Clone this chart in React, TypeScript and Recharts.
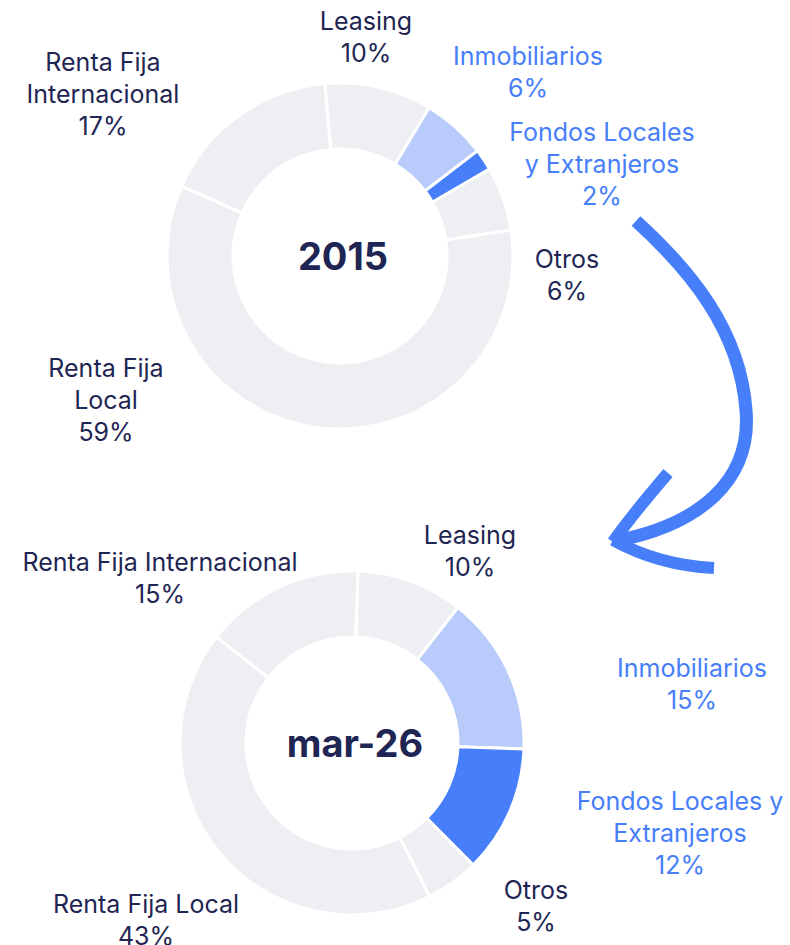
import React from "react";
import { PieChart, Pie, Cell, Customized } from "recharts";

// slices clockwise from the top
const categories = [
  "Leasing",
  "Inmobiliarios",
  "Fondos Locales y Extranjeros",
  "Otros",
  "Renta Fija Local",
  "Renta Fija Internacional",
];
const values2015 = [10, 6, 2, 6, 59, 17];
const valuesMar26 = [10, 15, 12, 5, 43, 15];
const periods = ["2015", "mar-26"];

const GREY = "#EDEFF2";
const LIGHT = "#B8CBFB";
const BLUE = "#477EFA";
const NAVY = "#1F2653";
const sliceColors = [GREY, LIGHT, BLUE, GREY, GREY, GREY];
const labelColors = [NAVY, BLUE, BLUE, NAVY, NAVY, NAVY];

// how each label wraps and where it sits relative to the pie center
const lines2015 = [
  ["Leasing"],
  ["Inmobiliarios"],
  ["Fondos Locales", "y Extranjeros"],
  ["Otros"],
  ["Renta Fija", "Local"],
  ["Renta Fija", "Internacional"],
];
const offsets2015 = [
  [26, -235],
  [188, -200],
  [262, -124],
  [227, 3],
  [-234, 112],
  [-237, -194],
];
const linesMar26 = [
  ["Leasing"],
  ["Inmobiliarios"],
  ["Fondos Locales y", "Extranjeros"],
  ["Otros"],
  ["Renta Fija Local"],
  ["Renta Fija Internacional"],
];
const offsetsMar26 = [
  [118, -208],
  [340, -75],
  [328, 58],
  [184, 147],
  [-206, 161],
  [-192, -181],
];

const FONT = "Inter, 'Noto Sans', sans-serif";

const makeData = (vals: number[]) =>
  categories.map((name, i) => ({ name, value: vals[i] }));

const makeLabel =
  (vals: number[], lines: string[][], offsets: number[][], title: string) =>
  (props: any) => {
    const { cx, cy, index } = props;
    const rows = [...lines[index], `${vals[index]}%`];
    const x = cx + offsets[index][0];
    const y = cy + offsets[index][1];
    return (
      <g key={`lbl-${index}`}>
        <text
          x={x}
          y={y}
          textAnchor="middle"
          fill={labelColors[index]}
          fontFamily={FONT}
          fontSize={25}
        >
          {rows.map((r, j) => (
            <tspan key={j} x={x} y={y + j * 32} dominantBaseline="central">
              {r}
            </tspan>
          ))}
        </text>
        {index === 0 && (
          <text
            x={cx + 3}
            y={cy}
            textAnchor="middle"
            dominantBaseline="central"
            fill={NAVY}
            fontFamily={FONT}
            fontSize={38}
            fontWeight={700}
          >
            {title}
          </text>
        )}
      </g>
    );
  };

const Arrow = () => (
  <g>
    <path
      d="M636 221 C 690 270, 740 330, 746 410 C 752 480, 700 525, 615 541"
      fill="none"
      stroke={BLUE}
      strokeWidth={13}
      strokeLinecap="butt"
    />
    <path
      d="M668 473 C 645 500, 628 520, 613 542"
      fill="none"
      stroke={BLUE}
      strokeWidth={12}
    />
    <path
      d="M613 540 C 640 555, 675 566, 714 568"
      fill="none"
      stroke={BLUE}
      strokeWidth={12}
    />
  </g>
);

export default function App() {
  return (
    <div style={{ position: "absolute", left: 0, top: 0, background: "#fff" }}>
      <PieChart
        width={790}
        height={945}
        margin={{ top: 0, right: 0, bottom: 0, left: 0 }}
      >
        <Pie
          data={makeData(values2015)}
          dataKey="value"
          nameKey="name"
          cx={340}
          cy={256}
          innerRadius={107}
          outerRadius={173}
          startAngle={95}
          endAngle={-265}
          stroke="#ffffff"
          strokeWidth={3}
          labelLine={false}
          label={makeLabel(values2015, lines2015, offsets2015, periods[0])}
          isAnimationActive={false}
        >
          {values2015.map((_, i) => (
            <Cell key={i} fill={sliceColors[i]} />
          ))}
        </Pie>
        <Pie
          data={makeData(valuesMar26)}
          dataKey="value"
          nameKey="name"
          cx={352}
          cy={743}
          innerRadius={106}
          outerRadius={172}
          startAngle={88}
          endAngle={-272}
          stroke="#ffffff"
          strokeWidth={3}
          labelLine={false}
          label={makeLabel(valuesMar26, linesMar26, offsetsMar26, periods[1])}
          isAnimationActive={false}
        >
          {valuesMar26.map((_, i) => (
            <Cell key={i} fill={sliceColors[i]} />
          ))}
        </Pie>
        <Customized component={Arrow} />
      </PieChart>
    </div>
  );
}
